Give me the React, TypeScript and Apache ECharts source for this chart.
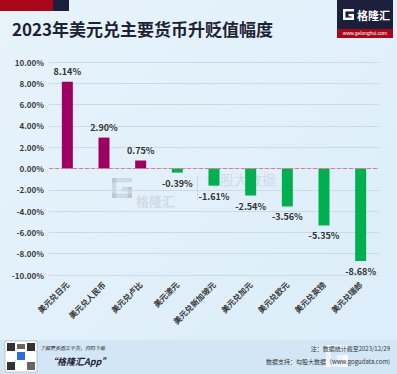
import React, { useEffect, useRef } from "react";
import * as echarts from "echarts";

const categories = [
  "美元兑日元",
  "美元兑人民币",
  "美元兑卢比",
  "美元澳元",
  "美元兑新加坡元",
  "美元兑加元",
  "美元兑欧元",
  "美元兑英镑",
  "美元兑瑞郎",
];
const values = [8.14, 2.9, 0.75, -0.39, -1.61, -2.54, -3.56, -5.35, -8.68];
const title = "2023年美元兑主要货币升贬值幅度";
const noteText = "注：数据统计截至2023/12/29";
const sourceText = "数据支持：勾股大数据（www.gogudata.com)";

const POS = "#9b0062";
const NEG = "#00b050";

function gMark(x: number, y: number, s: number, fill: string) {
  const t = s * 0.22;
  return {
    type: "group",
    x,
    y,
    silent: true,
    children: [
      { type: "rect", shape: { x: 0, y: 0, width: s, height: t }, style: { fill } },
      { type: "rect", shape: { x: 0, y: 0, width: t, height: s }, style: { fill } },
      { type: "rect", shape: { x: 0, y: s - t, width: s, height: t }, style: { fill } },
      { type: "rect", shape: { x: s - t, y: s * 0.45, width: t, height: s * 0.55 }, style: { fill } },
      { type: "rect", shape: { x: s * 0.5, y: s * 0.45, width: s * 0.5, height: t }, style: { fill } },
    ],
  };
}

export default function App() {
  const ref = useRef<HTMLDivElement>(null);
  useEffect(() => {
    const chart = echarts.init(ref.current!, null, { renderer: "svg" });
    const font = "'Noto Sans CJK SC', 'Noto Sans', sans-serif";
    chart.setOption({
      animation: false,
      backgroundColor: {
        type: "linear",
        x: 0,
        y: 0,
        x2: 1,
        y2: 1,
        colorStops: [
          { offset: 0, color: "#e6f3fb" },
          { offset: 1, color: "#dcedf9" },
        ],
      },
      textStyle: { fontFamily: font },
      grid: { left: 49, right: 18, top: 62, bottom: 99 },
      xAxis: {
        type: "category",
        data: categories,
        axisLine: { show: false },
        axisTick: { show: false },
        axisLabel: {
          interval: 0,
          rotate: 45,
          fontSize: 8,
          fontWeight: "bold",
          color: "#3a3a3a",
          margin: 8,
        },
      },
      yAxis: {
        type: "value",
        min: -10,
        max: 10,
        interval: 2,
        axisLine: { show: false },
        axisTick: { show: false },
        axisLabel: {
          formatter: (v: number) => v.toFixed(2) + "%",
          fontSize: 8,
          fontWeight: "bold",
          color: "#3a3a3a",
          margin: 5,
        },
        splitLine: { lineStyle: { color: "#c8dbe6", width: 1 } },
      },
      series: [
        {
          type: "bar",
          barWidth: 11,
          data: values.map((v) => ({
            value: v,
            itemStyle: { color: v >= 0 ? POS : NEG },
            label: { position: v >= 0 ? "top" : "bottom" },
          })),
          label: {
            show: true,
            formatter: (p: any) => p.value.toFixed(2) + "%",
            fontSize: 9,
            fontWeight: "bold",
            color: "#333",
            distance: 6,
          },
          markLine: {
            silent: true,
            symbol: "none",
            label: { show: false },
            lineStyle: { color: "#e07a8a", type: "dashed", width: 1 },
            data: [{ yAxis: 0 }],
          },
          z: 3,
        },
      ],
      graphic: [
        { type: "rect", shape: { x: 0, y: 0, width: 53, height: 11 }, style: { fill: "#a8071a" } },
        { type: "rect", shape: { x: 53, y: 0, width: 16, height: 11 }, style: { fill: "#1b1f3b" } },
        {
          type: "text",
          left: 12,
          top: 20,
          style: {
            text: title,
            font: "bold 17px 'Noto Sans CJK SC', sans-serif",
            fill: "#1e2235",
          },
        },
        { type: "rect", shape: { x: 337, y: 0, width: 56, height: 38 }, style: { fill: "#1b1f3b" } },
        { type: "rect", shape: { x: 337, y: 29, width: 56, height: 9 }, style: { fill: "#a8071a" } },
        gMark(343, 9, 11, "#ffffff"),
        {
          type: "text",
          x: 357,
          y: 9,
          style: { text: "格隆汇", font: "bold 11px 'Noto Sans CJK SC', sans-serif", fill: "#ffffff" },
        },
        {
          type: "text",
          x: 365,
          y: 30,
          style: {
            text: "www.gelonghui.com",
            font: "5px sans-serif",
            fill: "#ffffff",
            align: "center",
          },
        },
        // watermark
        gMark(112, 178, 20, "rgba(120,130,140,0.2)"),
        {
          type: "text",
          x: 136,
          y: 194,
          z: 0,
          style: {
            text: "格隆汇",
            font: "bold 13px 'Noto Sans CJK SC', sans-serif",
            fill: "rgba(120,130,140,0.2)",
          },
        },
        { type: "rect", shape: { x: 197, y: 176, width: 1, height: 24 }, style: { fill: "rgba(120,130,140,0.2)" } },
        {
          type: "text",
          x: 206,
          y: 172,
          z: 0,
          style: {
            text: "勾股大数据",
            font: "14px 'Noto Sans CJK SC', sans-serif",
            fill: "rgba(120,130,140,0.2)",
          },
        },
        {
          type: "rect",
          shape: { x: 0, y: 340, width: 397, height: 34 },
          style: { fill: "#d3e6f6" },
          z: -1,
        },
        gMark(326, 345, 22, "rgba(255,255,255,0.6)"),
        { type: "rect", shape: { x: 5, y: 341, width: 32, height: 31 }, style: { fill: "#ffffff", stroke: "#999", lineWidth: 0.5 } },
        { type: "rect", shape: { x: 7, y: 343, width: 8, height: 8 }, style: { fill: "#333" } },
        { type: "rect", shape: { x: 27, y: 343, width: 8, height: 8 }, style: { fill: "#333" } },
        { type: "rect", shape: { x: 7, y: 362, width: 8, height: 8 }, style: { fill: "#333" } },
        { type: "rect", shape: { x: 17, y: 352, width: 8, height: 8 }, style: { fill: "#2b6de0" } },
        { type: "rect", shape: { x: 17, y: 344, width: 8, height: 5 }, style: { fill: "#666" } },
        { type: "rect", shape: { x: 27, y: 362, width: 8, height: 8 }, style: { fill: "#666" } },
        {
          type: "text",
          x: 40,
          y: 345,
          style: {
            text: "了解更多图文干货，扫码下载",
            font: "italic 5px 'Noto Sans CJK SC', sans-serif",
            fill: "#333",
          },
        },
        {
          type: "text",
          x: 48,
          y: 357,
          style: {
            text: "“格隆汇App”",
            font: "italic bold 9px 'Noto Sans CJK SC', sans-serif",
            fill: "#1e2235",
          },
        },
        {
          type: "text",
          x: 390,
          y: 345,
          style: {
            text: noteText,
            font: "6px 'Noto Sans CJK SC', sans-serif",
            fill: "#333",
            align: "right",
          },
        },
        {
          type: "text",
          x: 390,
          y: 358,
          style: {
            text: sourceText,
            font: "6px 'Noto Sans CJK SC', sans-serif",
            fill: "#333",
            align: "right",
          },
        },
      ],
    });
    return () => chart.dispose();
  }, []);
  return <div ref={ref} style={{ width: 397, height: 374, position: "fixed", left: 0, top: 0 }} />;
}
